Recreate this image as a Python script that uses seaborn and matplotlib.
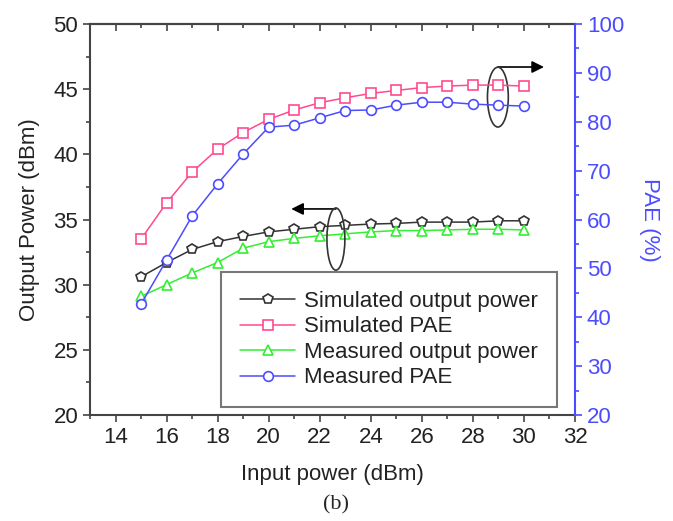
import numpy as np
import pandas as pd
import matplotlib
matplotlib.use("Agg")
import matplotlib.pyplot as plt
import matplotlib.ticker as mticker
from matplotlib.patches import Ellipse
import seaborn as sns

# ── Data ──────────────────────────────────────────────────────────────────────
input_power = [15, 16, 17, 18, 19, 20, 21, 22, 23, 24, 25, 26, 27, 28, 29, 30]
sim_pout = [30.6, 31.7, 32.7, 33.3, 33.7, 34.05, 34.25, 34.45, 34.55, 34.65,
            34.7, 34.8, 34.8, 34.8, 34.9, 34.9]
sim_pae = [56.0, 63.4, 69.7, 74.4, 77.8, 80.5, 82.4, 83.9, 84.9, 85.8,
           86.4, 87.0, 87.3, 87.5, 87.5, 87.3]
meas_pout = [29.1, 30.0, 30.9, 31.7, 32.8, 33.3, 33.55, 33.75, 33.9, 34.05,
             34.15, 34.15, 34.2, 34.25, 34.25, 34.2]
meas_pae = [42.7, 51.7, 60.7, 67.3, 73.4, 78.9, 79.3, 80.8, 82.3, 82.4,
            83.4, 84.0, 84.0, 83.6, 83.4, 83.2]

df = pd.DataFrame({
    "pin": input_power,
    "sim_pout": sim_pout,
    "sim_pae": sim_pae,
    "meas_pout": meas_pout,
    "meas_pae": meas_pae,
})

# ── Style ─────────────────────────────────────────────────────────────────────
sns.set_style("ticks")
plt.rcParams["font.family"] = ["Liberation Sans", "DejaVu Sans"]

BLACK = "#333333"
PINK = "#ff4a8d"
GREEN = "#33ee33"
BLUE = "#4c4cff"
SPINE = "#444444"
TEXT = "#222222"

fig = plt.figure(figsize=(6.73, 5.21), dpi=100)
ax = fig.add_axes([90 / 673, 1 - 415 / 521, 485 / 673, 391 / 521])
ax2 = ax.twinx()

mk = dict(markerfacecolor="white", markersize=7, markeredgewidth=1.2,
          linewidth=1.1)

sns.lineplot(data=df, x="pin", y="sim_pout", ax=ax, color=BLACK, marker="p",
             markeredgecolor=BLACK, label="Simulated output power", **mk)
sns.lineplot(data=df, x="pin", y="meas_pout", ax=ax, color=GREEN, marker="^",
             markeredgecolor=GREEN, label="Measured output power", **mk)
sns.lineplot(data=df, x="pin", y="sim_pae", ax=ax2, color=PINK, marker="s",
             markeredgecolor=PINK, label="Simulated PAE", **mk)
sns.lineplot(data=df, x="pin", y="meas_pae", ax=ax2, color=BLUE, marker="o",
             markeredgecolor=BLUE, label="Measured PAE", **mk)

# ── Axes ──────────────────────────────────────────────────────────────────────
ax.set_xlim(13, 32)
ax.set_ylim(20, 50)
ax2.set_ylim(20, 100)

ax.xaxis.set_minor_locator(mticker.MultipleLocator(1))
ax.yaxis.set_major_locator(mticker.MultipleLocator(5))
ax.yaxis.set_minor_locator(mticker.MultipleLocator(2.5))
ax2.yaxis.set_major_locator(mticker.MultipleLocator(10))
ax2.yaxis.set_minor_locator(mticker.MultipleLocator(5))
ax.set_xticks([14, 16, 18, 20, 22, 24, 26, 28, 30, 32])

ax.tick_params(which="both", direction="out", colors=SPINE, labelcolor=TEXT,
               labelsize=16, width=1.2)
ax.tick_params(which="major", length=5)
ax.tick_params(which="minor", length=3)
ax2.tick_params(which="both", direction="out", colors=BLUE, labelcolor=BLUE,
                labelsize=16, width=1.2)
ax2.tick_params(which="major", length=5)
ax2.tick_params(which="minor", length=3)

top = ax.secondary_xaxis("top")
top.xaxis.set_major_locator(mticker.MultipleLocator(2))
top.xaxis.set_minor_locator(mticker.MultipleLocator(1))
top.tick_params(which="both", direction="in", colors=SPINE, labeltop=False,
                width=1.2)
top.tick_params(which="major", length=5)
top.tick_params(which="minor", length=3)
top.spines["top"].set_color(SPINE)
top.spines["top"].set_linewidth(1.5)

for side in ["left", "bottom", "top"]:
    ax.spines[side].set_color(SPINE)
    ax.spines[side].set_linewidth(1.5)
ax.spines["right"].set_visible(False)
for side in ["left", "bottom", "top"]:
    ax2.spines[side].set_visible(False)
ax2.spines["right"].set_color(BLUE)
ax2.spines["right"].set_linewidth(1.5)
ax2.spines["right"].set_visible(True)

ax.set_xlabel("Input power (dBm)", fontsize=16, color=TEXT, labelpad=12)
ax.set_ylabel("Output Power (dBm)", fontsize=16, color=TEXT, labelpad=10)
ax2.set_ylabel("PAE (%)", fontsize=16, color=BLUE, rotation=270, labelpad=26)

# ── Legend ────────────────────────────────────────────────────────────────────
h1, l1 = ax.get_legend_handles_labels()
h2, l2 = ax2.get_legend_handles_labels()
if ax.get_legend():
    ax.get_legend().remove()
if ax2.get_legend():
    ax2.get_legend().remove()
handles = [h1[0], h2[0], h1[1], h2[1]]
labels = [l1[0], l2[0], l1[1], l2[1]]
leg = ax2.legend(handles, labels,
                 loc="lower right", bbox_to_anchor=(0.963, 0.02),
                 fontsize=16, frameon=True, fancybox=False,
                 handlelength=2.5, handletextpad=0.4, labelspacing=0.2,
                 borderpad=0.85, borderaxespad=0)
leg.get_frame().set_edgecolor("#555555")
leg.get_frame().set_linewidth(1.5)
for t in leg.get_texts():
    t.set_color(TEXT)

# ── Annotations (ellipses + arrows) ───────────────────────────────────────────
ax.add_patch(Ellipse((0.841, 0.813), 0.043, 0.153, transform=ax.transAxes,
                     fill=False, edgecolor="#333333", lw=1.2, zorder=5))
ax.add_patch(Ellipse((0.507, 0.450), 0.037, 0.159, transform=ax.transAxes,
                     fill=False, edgecolor="#333333", lw=1.2, zorder=5))
ax.annotate("", xy=(0.936, 0.890), xytext=(0.841, 0.890),
            xycoords="axes fraction",
            arrowprops=dict(arrowstyle="-|>", color="black", lw=1.2,
                            mutation_scale=18, shrinkA=0, shrinkB=0))
ax.annotate("", xy=(0.415, 0.527), xytext=(0.507, 0.527),
            xycoords="axes fraction",
            arrowprops=dict(arrowstyle="-|>", color="black", lw=1.2,
                            mutation_scale=18, shrinkA=0, shrinkB=0))

fig.text(0.5, 1 - 505 / 521, "(b)", ha="center", va="center", fontsize=16,
         family=["Liberation Serif", "DejaVu Serif"])

fig.savefig("out.png", dpi=100)
